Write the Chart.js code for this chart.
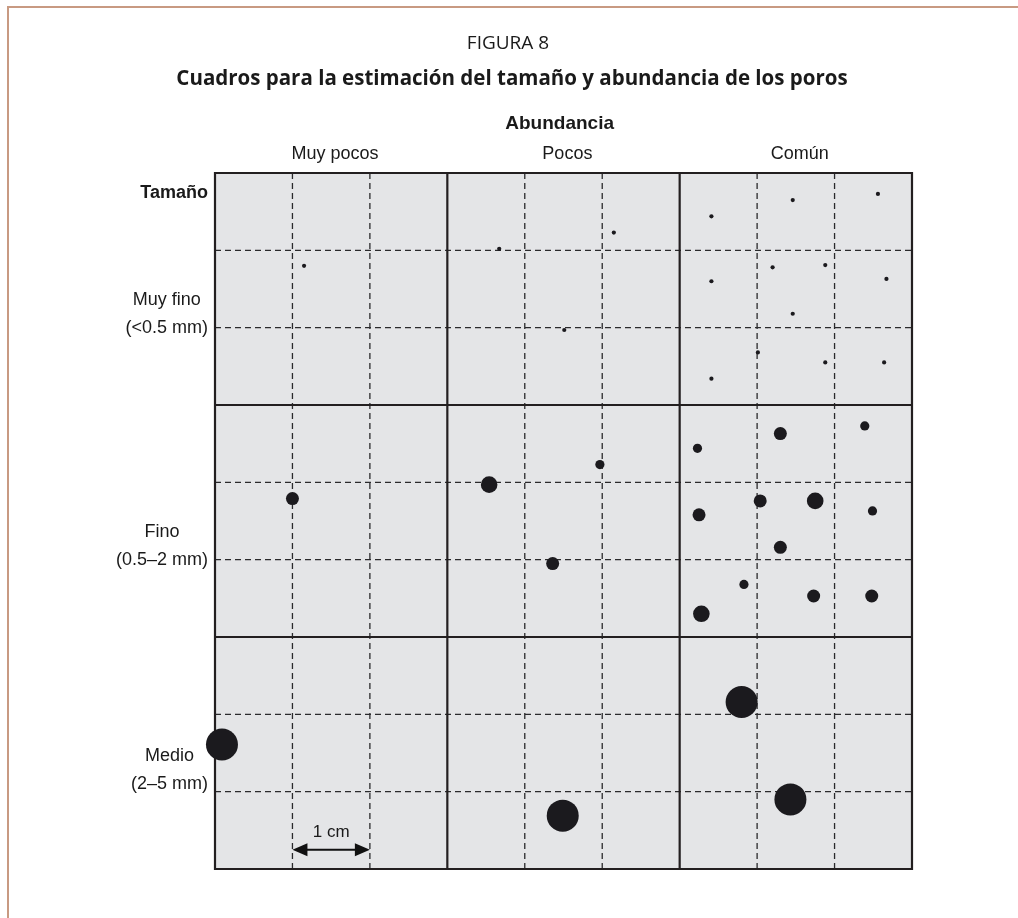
<!DOCTYPE html>
<html>
<head>
<meta charset="utf-8">
<script src="https://cdn.jsdelivr.net/npm/chart.js@4"></script>
<style>
  html, body { margin: 0; padding: 0; background: #ffffff; }
  #wrap { position: relative; width: 1018px; height: 918px; }
</style>
</head>
<body>
<div id="wrap"><canvas id="pores-chart"></canvas></div>
<script>
// labels
const abundanceLabels = ['Muy pocos', 'Pocos', 'Común'];
const sizeLabels = [
  ['Muy fino', '(<0.5 mm)'],
  ['Fino', '(0.5–2 mm)'],
  ['Medio', '(2–5 mm)']
];

// pores, in cm from the top left corner of the grid
const poreX = [
  // muy fino
  1.15, 3.67, 5.15, 4.51,
  6.41, 7.46, 8.56, 6.41, 7.20, 7.88, 8.67, 7.46, 7.01, 7.88, 8.64, 6.41,
  // fino
  1.00, 3.54, 4.97, 4.36,
  6.23, 7.30, 8.39, 6.25, 7.04, 7.75, 8.49, 7.30, 6.83, 7.73, 8.48, 6.28,
  // medio
  0.09, 4.49, 6.80, 7.43
];
const poreY = [
  1.20, 0.98, 0.77, 2.03,
  0.56, 0.35, 0.27, 1.40, 1.22, 1.19, 1.37, 1.82, 2.32, 2.45, 2.45, 2.66,
  4.21, 4.03, 3.77, 5.05,
  3.56, 3.37, 3.27, 4.42, 4.24, 4.24, 4.37, 4.84, 5.32, 5.47, 5.47, 5.70,
  7.39, 8.31, 6.84, 8.10
];
// dot size class (0 = smallest)
const poreClass = [
  0, 0, 0, 0,
  0, 0, 0, 0, 0, 0, 0, 0, 0, 0, 0, 0,
  2, 3, 1, 2,
  1, 2, 1, 2, 2, 3, 1, 2, 1, 2, 2, 3,
  4, 4, 4, 4
];

const radiusByClass = [2.1, 4.6, 6.5, 8.3, 16];
const gridCells = 9;

const poreData = poreX.map(function(x, i) {
  return { x: x, y: poreY[i] };
});

const sansFont = '"Liberation Sans", Arial, sans-serif';
const titleFont = '"Open Sans", "Noto Sans", sans-serif';

// grid, frame and all the texts
const gridPlugin = {
  id: 'gridPlugin',
  beforeDatasetsDraw: function(chart) {
    const ctx = chart.ctx;
    const xs = chart.scales.x;
    const ys = chart.scales.y;
    const left = xs.getPixelForValue(0);
    const right = xs.getPixelForValue(gridCells);
    const top = ys.getPixelForValue(0);
    const bottom = ys.getPixelForValue(gridCells);

    ctx.save();
    ctx.fillStyle = '#e4e5e7';
    ctx.fillRect(left, top, right - left, bottom - top);

    // dashed lines
    ctx.strokeStyle = '#2a2a2c';
    ctx.lineWidth = 1.3;
    ctx.setLineDash([6, 4]);
    for (let i = 1; i < gridCells; i++) {
      if (i % 3 === 0) continue;
      const px = xs.getPixelForValue(i);
      const py = ys.getPixelForValue(i);
      ctx.beginPath();
      ctx.moveTo(px, top);
      ctx.lineTo(px, bottom);
      ctx.stroke();
      ctx.beginPath();
      ctx.moveTo(left, py);
      ctx.lineTo(right, py);
      ctx.stroke();
    }

    // solid lines
    ctx.setLineDash([]);
    ctx.strokeStyle = '#231f20';
    ctx.lineWidth = 2.2;
    for (let i = 0; i <= gridCells; i += 3) {
      const px = xs.getPixelForValue(i);
      const py = ys.getPixelForValue(i);
      ctx.beginPath();
      ctx.moveTo(px, top - 1);
      ctx.lineTo(px, bottom + 1);
      ctx.stroke();
      ctx.beginPath();
      ctx.moveTo(left - 1, py);
      ctx.lineTo(right + 1, py);
      ctx.stroke();
    }
    ctx.restore();
  },
  afterDraw: function(chart) {
    const ctx = chart.ctx;
    const xs = chart.scales.x;
    const ys = chart.scales.y;
    const left = xs.getPixelForValue(0);

    ctx.save();
    // page frame
    ctx.strokeStyle = '#c89a82';
    ctx.lineWidth = 2;
    ctx.beginPath();
    ctx.moveTo(8, 918);
    ctx.lineTo(8, 7);
    ctx.lineTo(1018, 7);
    ctx.stroke();

    ctx.fillStyle = '#1a1a1a';
    ctx.textAlign = 'center';
    ctx.textBaseline = 'middle';
    ctx.font = '19px ' + titleFont;
    ctx.fillText('FIGURA 8', 508, 44);
    ctx.font = 'bold 20.5px ' + titleFont;
    ctx.fillText('Cuadros para la estimación del tamaño y abundancia de los poros', 512, 79);

    ctx.font = 'bold 19px ' + sansFont;
    ctx.fillText('Abundancia', xs.getPixelForValue(4.45), 124);
    ctx.font = '18px ' + sansFont;
    abundanceLabels.forEach(function(label, i) {
      ctx.fillText(label, xs.getPixelForValue(i * 3 + 1.55), 154);
    });

    // row labels
    const rightEdge = left - 7;
    ctx.font = 'bold 18px ' + sansFont;
    ctx.textAlign = 'right';
    ctx.fillText('Tamaño', rightEdge, 193);
    ctx.font = '18px ' + sansFont;
    ctx.textAlign = 'center';
    // second line sits at the lower dashed line of each band
    const rowLines = [2, 5, 7.9];
    sizeLabels.forEach(function(lines, i) {
      const w = Math.max.apply(null, lines.map(function(l) { return ctx.measureText(l).width; }));
      const base = ys.getPixelForValue(rowLines[i]);
      lines.forEach(function(l, j) {
        ctx.fillText(l, rightEdge - w / 2, base + (j - 1) * 28);
      });
    });

    // 1 cm scale arrow
    const ax1 = xs.getPixelForValue(1);
    const ax2 = xs.getPixelForValue(2);
    const ay = ys.getPixelForValue(8.75);
    ctx.strokeStyle = '#111';
    ctx.lineWidth = 2;
    ctx.beginPath();
    ctx.moveTo(ax1 + 10, ay);
    ctx.lineTo(ax2 - 10, ay);
    ctx.stroke();
    ctx.fillStyle = '#111';
    ctx.beginPath();
    ctx.moveTo(ax1, ay);
    ctx.lineTo(ax1 + 15, ay - 6.5);
    ctx.lineTo(ax1 + 15, ay + 6.5);
    ctx.closePath();
    ctx.fill();
    ctx.beginPath();
    ctx.moveTo(ax2, ay);
    ctx.lineTo(ax2 - 15, ay - 6.5);
    ctx.lineTo(ax2 - 15, ay + 6.5);
    ctx.closePath();
    ctx.fill();
    ctx.fillStyle = '#1a1a1a';
    ctx.font = '17px ' + sansFont;
    ctx.fillText('1 cm', xs.getPixelForValue(1.5), ys.getPixelForValue(8.52));
    ctx.restore();
  }
};

const poresChart = new Chart(document.getElementById('pores-chart'), {
  type: 'scatter',
  data: {
    datasets: [{
      data: poreData,
      backgroundColor: '#1b1a1e',
      borderWidth: 0,
      pointRadius: function(context) {
        return radiusByClass[poreClass[context.dataIndex]];
      },
      pointHoverRadius: function(context) {
        return radiusByClass[poreClass[context.dataIndex]];
      },
      clip: false
    }]
  },
  options: {
    responsive: true,
    maintainAspectRatio: false,
    animation: false,
    events: [],
    layout: {
      padding: { left: 215, top: 173, right: 106, bottom: 49 }
    },
    plugins: {
      legend: { display: false },
      tooltip: { enabled: false }
    },
    scales: {
      x: { type: 'linear', min: 0, max: gridCells, display: false },
      y: { type: 'linear', min: 0, max: gridCells, reverse: true, display: false }
    }
  },
  plugins: [gridPlugin]
});
</script>
</body>
</html>
